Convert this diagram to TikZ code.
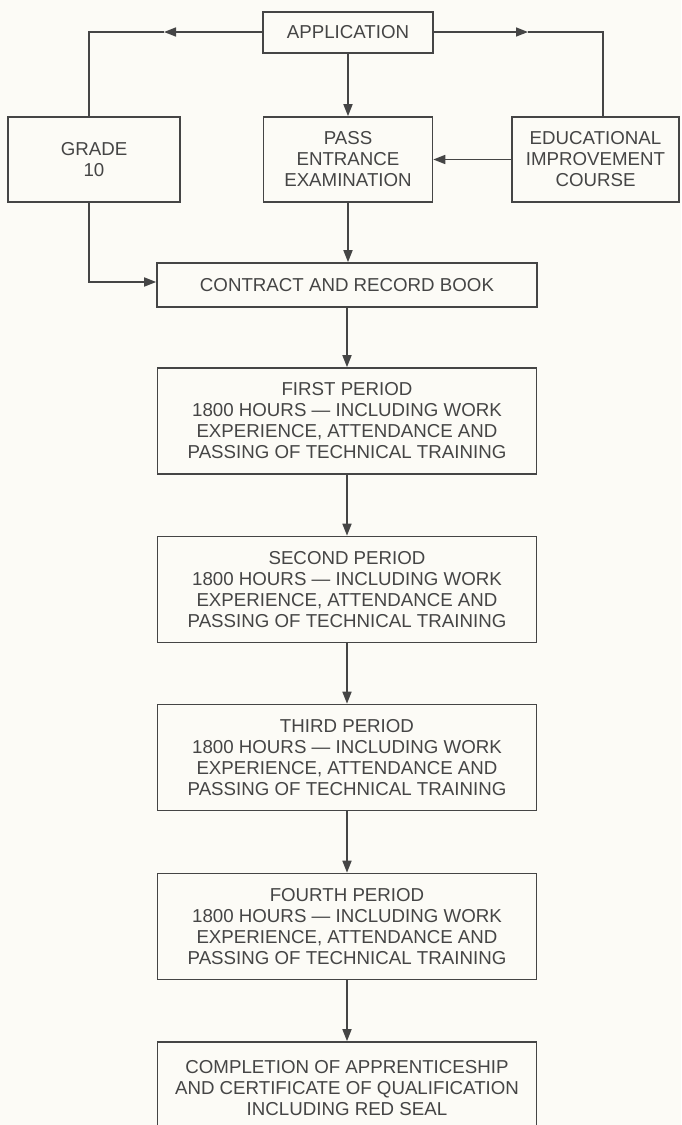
\documentclass[tikz,border=0pt]{standalone}
\usepackage{fontspec}
\setmainfont{Liberation Sans}
\usetikzlibrary{arrows.meta}
\definecolor{ink}{HTML}{454545}
\definecolor{paper}{HTML}{FCFBF6}
\begin{document}
\begin{tikzpicture}[x=1pt,y=-1pt,
  box/.style={draw=ink, line width=1.6pt, align=center, text=ink, inner sep=0pt,
    font=\fontsize{18.7}{21}\selectfont},
  conn/.style={draw=ink, line width=1.6pt},
  arr/.style={conn, -{Triangle[length=12pt,width=9pt]}}]
\useasboundingbox (0,0) rectangle (681,1125);
\clip (0,0) rectangle (681,1125);
\fill[paper] (0,0) rectangle (681,1125);
% nodes
\node[box, minimum width=170pt, minimum height=41pt] (app) at (348,32.5) {APPLICATION};
\node[box, minimum width=172pt, minimum height=85pt] (grade) at (94,159.5) {GRADE\\10};
\node[box, minimum width=169pt, minimum height=85pt] (pass) at (348,159.5) {PASS\\ENTRANCE\\EXAMINATION};
\node[box, minimum width=167pt, minimum height=85pt] (edu) at (595.5,159.5) {EDUCATIONAL\\IMPROVEMENT\\COURSE};
\node[box, minimum width=380pt, minimum height=44pt] (contract) at (347,285) {CONTRACT AND RECORD BOOK};
\node[box, minimum width=379pt, minimum height=106pt] (p1) at (347,421) {FIRST PERIOD\\1800 HOURS — INCLUDING WORK\\EXPERIENCE, ATTENDANCE AND\\PASSING OF TECHNICAL TRAINING};
\node[box, minimum width=379pt, minimum height=106pt] (p2) at (347,589.5) {SECOND PERIOD\\1800 HOURS — INCLUDING WORK\\EXPERIENCE, ATTENDANCE AND\\PASSING OF TECHNICAL TRAINING};
\node[box, minimum width=379pt, minimum height=106pt] (p3) at (347,757.5) {THIRD PERIOD\\1800 HOURS — INCLUDING WORK\\EXPERIENCE, ATTENDANCE AND\\PASSING OF TECHNICAL TRAINING};
\node[box, minimum width=379pt, minimum height=106pt] (p4) at (347,926.5) {FOURTH PERIOD\\1800 HOURS — INCLUDING WORK\\EXPERIENCE, ATTENDANCE AND\\PASSING OF TECHNICAL TRAINING};
\node[box, minimum width=379pt, minimum height=92pt] (done) at (347,1088) {COMPLETION OF APPRENTICESHIP\\AND CERTIFICATE OF QUALIFICATION\\INCLUDING RED SEAL};
% helper coordinates
\coordinate (lc) at (89,32);
\coordinate (la) at (164,32);
\coordinate (rc) at (603,32);
\coordinate (ra) at (528,32);
\coordinate (gb) at (89,282);
% connectors
\draw[arr] (app.west |- lc) -- (la);
\draw[conn] (la) -- (lc) -- (grade.north -| lc);
\draw[arr] (app.east |- rc) -- (ra);
\draw[conn] (ra) -- (rc) -- (edu.north -| rc);
\draw[arr] (app) -- (pass);
\draw[arr] (edu) -- (pass);
\draw[arr] (pass) -- (pass.south |- contract.north);
\draw[arr] (grade.south -| gb) -- (gb) -- (contract.west |- gb);
\draw[arr] (contract) -- (p1);
\draw[arr] (p1) -- (p2);
\draw[arr] (p2) -- (p3);
\draw[arr] (p3) -- (p4);
\draw[arr] (p4) -- (done);
\end{tikzpicture}
\end{document}
